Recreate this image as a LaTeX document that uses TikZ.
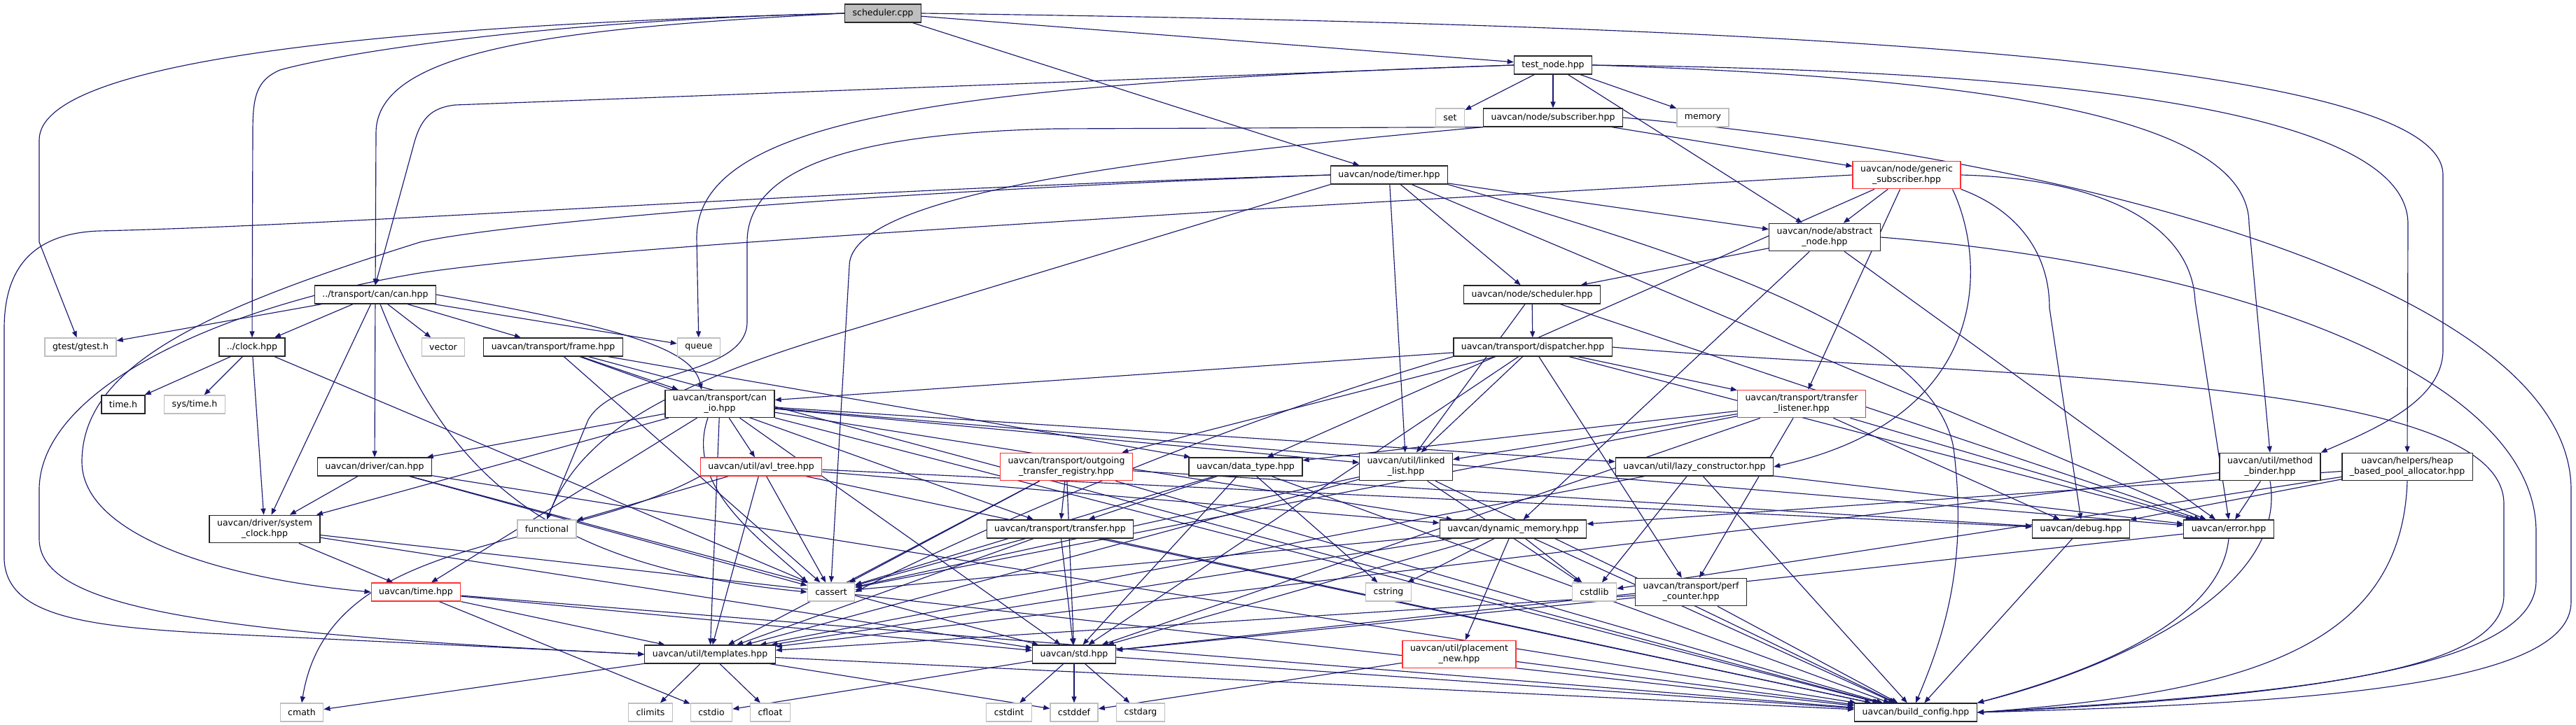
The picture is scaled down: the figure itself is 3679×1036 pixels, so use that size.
\documentclass[tikz,border=0pt]{standalone}
\usepackage{fontspec}
\setmainfont{DejaVu Sans}
\usetikzlibrary{arrows.meta,backgrounds}
\definecolor{edgeblue}{HTML}{191970}
\definecolor{sysgray}{HTML}{BFBFBF}
\definecolor{cutred}{HTML}{FF3030}
\tikzset{
  hdr/.style={draw=black!85, fill=white, line width=1.3pt, inner xsep=11pt, inner ysep=6pt,
    minimum height=26pt, align=center, font=\fontsize{12.5}{15}\selectfont},
  syshdr/.style={hdr, draw=sysgray},
  cuthdr/.style={hdr, draw=cutred},
  mainhdr/.style={hdr, fill=sysgray},
  incl/.style={draw=edgeblue, line width=1.15pt, -{Triangle[length=9pt,width=7pt]}},
}
\begin{document}
\begin{tikzpicture}[x=1pt,y=-1pt]
  \useasboundingbox (0,0) rectangle (3679,1036);
  \node[mainhdr] (scpp)      at (1261,19)   {scheduler.cpp};
  \node[hdr]     (testnode)  at (2218,93)   {test\_node.hpp};
  \node[syshdr]  (set)       at (2071,168)  {set};
  \node[hdr]     (subscr)    at (2218,168)  {uavcan/node/subscriber.hpp};
  \node[syshdr]  (memory)    at (2432,168)  {memory};
  \node[hdr]     (timer)     at (1984,250)  {uavcan/node/timer.hpp};
  \node[cuthdr]  (gensub)    at (2723,250)  {uavcan/node/generic\\\_subscriber.hpp};
  \node[hdr]     (absnode)   at (2606,339)  {uavcan/node/abstract\\\_node.hpp};
  \node[hdr]     (cancan)    at (536,421)   {../transport/can/can.hpp};
  \node[hdr]     (sched)     at (2188,421)  {uavcan/node/scheduler.hpp};
  \node[syshdr]  (gtest)     at (115,496)   {gtest/gtest.h};
  \node[hdr]     (clock)     at (360,496)   {../clock.hpp};
  \node[syshdr]  (vector)    at (633,496)   {vector};
  \node[hdr]     (frame)     at (790,496)   {uavcan/transport/frame.hpp};
  \node[syshdr]  (queue)     at (998,496)   {queue};
  \node[hdr]     (dispatch)  at (2189,496)  {uavcan/transport/dispatcher.hpp};
  \node[hdr]     (timeh)     at (176,578)   {time.h};
  \node[syshdr]  (systime)   at (278,578)   {sys/time.h};
  \node[hdr]     (canio)     at (1028,577)  {uavcan/transport/can\\\_io.hpp};
  \node[cuthdr]  (translist) at (2573,577)  {uavcan/transport/transfer\\\_listener.hpp};
  \node[hdr]     (drvcan)    at (535,667)   {uavcan/driver/can.hpp};
  \node[cuthdr]  (avl)       at (1087,667)  {uavcan/util/avl\_tree.hpp};
  \node[cuthdr]  (outreg)    at (1523,667)  {uavcan/transport/outgoing\\\_transfer\_registry.hpp};
  \node[hdr]     (dtype)     at (1779,667)  {uavcan/data\_type.hpp};
  \node[hdr]     (llist)     at (2008,667)  {uavcan/util/linked\\\_list.hpp};
  \node[hdr]     (lazy)      at (2420,667)  {uavcan/util/lazy\_constructor.hpp};
  \node[hdr]     (binder)    at (3242,667)  {uavcan/util/method\\\_binder.hpp};
  \node[hdr]     (heap)      at (3438,667)  {uavcan/helpers/heap\\\_based\_pool\_allocator.hpp};
  \node[hdr]     (sysclock)  at (378,756)   {uavcan/driver/system\\\_clock.hpp};
  \node[syshdr]  (functional) at (781,756)  {functional};
  \node[hdr]     (transfer)  at (1514,756)  {uavcan/transport/transfer.hpp};
  \node[hdr]     (dynmem)    at (2161,756)  {uavcan/dynamic\_memory.hpp};
  \node[hdr]     (debug)     at (2972,756)  {uavcan/debug.hpp};
  \node[hdr]     (error)     at (3183,756)  {uavcan/error.hpp};
  \node[cuthdr]  (time)      at (594,846)   {uavcan/time.hpp};
  \node[syshdr]  (cassert)   at (1187,846)  {cassert};
  \node[syshdr]  (cstring)   at (1983,846)  {cstring};
  \node[syshdr]  (cstdlib)   at (2277,846)  {cstdlib};
  \node[hdr]     (perf)      at (2415,846)  {uavcan/transport/perf\\\_counter.hpp};
  \node[hdr]     (templates) at (1014,935)  {uavcan/util/templates.hpp};
  \node[hdr]     (std)       at (1534,935)  {uavcan/std.hpp};
  \node[cuthdr]  (placenew)  at (2084,935)  {uavcan/util/placement\\\_new.hpp};
  \node[syshdr]  (cmath)     at (431,1018)  {cmath};
  \node[syshdr]  (climits)   at (929,1018)  {climits};
  \node[syshdr]  (cstdio)    at (1016,1018) {cstdio};
  \node[syshdr]  (cfloat)    at (1100,1018) {cfloat};
  \node[syshdr]  (cstdint)   at (1441,1018) {cstdint};
  \node[syshdr]  (cstddef)   at (1534,1018) {cstddef};
  \node[syshdr]  (cstdarg)   at (1629,1018) {cstdarg};
  \node[hdr]     (buildcfg)  at (2736,1018) {uavcan/build\_config.hpp};
  \begin{scope}[on background layer]
    \foreach \src/\dst in {scpp/testnode, scpp/timer,
        testnode/set, testnode/subscr, testnode/memory, testnode/absnode,
        subscr/gensub, gensub/absnode, gensub/translist, gensub/dtype,
        timer/llist, timer/sched, timer/absnode, timer/error,
        cancan/gtest, cancan/clock, cancan/vector, cancan/frame, cancan/drvcan,
        cancan/queue, cancan/sysclock,
        clock/timeh, clock/systime, clock/sysclock, clock/cassert,
        frame/canio, frame/transfer, frame/dtype, frame/cassert, frame/buildcfg,
        canio/drvcan, canio/avl, canio/sysclock, canio/time, canio/std,
        canio/templates, canio/llist, canio/lazy, canio/dynmem, canio/buildcfg, canio/error,
        drvcan/sysclock, drvcan/cassert, drvcan/std, drvcan/buildcfg,
        avl/functional, avl/cassert, avl/templates, avl/dynmem, avl/debug, avl/buildcfg,
        outreg/transfer, outreg/std, outreg/cassert, outreg/templates, outreg/debug, outreg/buildcfg,
        dtype/transfer, dtype/cstring, dtype/std, dtype/cassert, dtype/buildcfg,
        llist/cstdlib, llist/cassert, llist/buildcfg, llist/templates,
        lazy/cstdlib, lazy/error, lazy/buildcfg, lazy/templates,
        sysclock/time, sysclock/std, sysclock/buildcfg,
        transfer/cassert, transfer/templates, transfer/std, transfer/buildcfg,
        dynmem/cstring, dynmem/cstdlib, dynmem/placenew, dynmem/buildcfg,
        dynmem/cassert, dynmem/std, dynmem/templates,
        debug/buildcfg, error/std,
        time/cstdio, time/std, time/buildcfg, time/templates,
        perf/std, perf/templates, perf/buildcfg,
        templates/climits, templates/cfloat, templates/cmath, templates/cstddef, templates/buildcfg,
        std/cstdint, std/cstddef, std/cstdarg, std/cstdio, std/buildcfg,
        placenew/cstddef, placenew/buildcfg,
        sched/dispatch, sched/llist, sched/error,
        dispatch/translist, dispatch/llist, dispatch/std, dispatch/perf, dispatch/canio,
        dispatch/outreg, dispatch/error,
        translist/llist, translist/dtype, translist/cassert, translist/perf,
        translist/std, translist/debug, translist/error,
        absnode/sched, absnode/dynmem, absnode/error,
        binder/templates, binder/error,
        heap/cstdlib, heap/debug, heap/dynmem}
      \draw[incl] (\src) -- (\dst);
    \draw[incl] (scpp.west) .. controls (600,35) and (56,80) .. (56,200) -- (56,346) -- (gtest);
    \draw[incl] (scpp.west) .. controls (750,30) and (470,80) .. (400,100) .. controls (365,115) and (361,140) .. (361,190) -- (clock);
    \draw[incl] (scpp.west) .. controls (800,40) and (537,70) .. (537,190) -- (cancan);
    \draw[incl] (scpp.east) .. controls (2500,35) and (3489,80) .. (3489,250) -- (3489,500) .. controls (3489,570) and (3400,610) .. (binder.north east);
    \draw[incl] (testnode.west) -- (650,150) .. controls (615,154) and (600,170) .. (590,210) -- (cancan.north);
    \draw[incl] (testnode.west) .. controls (1350,120) and (995,170) .. (995,340) -- (queue);
    \draw[incl] (testnode.east) .. controls (2800,110) and (3212,160) .. (3212,320) -- (binder.north);
    \draw[incl] (testnode.east) .. controls (2900,100) and (3439,150) .. (3439,320) -- (heap.north);
    \draw[incl] (subscr.south west) -- (1507,184) .. controls (1250,190) and (1067,230) .. (1067,346) -- (1067,460) .. controls (1067,540) and (880,530) .. (840,600) -- (functional.north);
    \draw[incl] (subscr.south west) .. controls (1700,220) and (1213,270) .. (1213,380) -- (cassert.north);
    \draw[incl] (subscr.east) .. controls (3000,230) and (3672,420) .. (3672,700) -- (3672,860) .. controls (3672,980) and (3300,1005) .. (buildcfg.east);
    \draw[incl] (gensub.west) -- (1840,296) .. controls (1300,330) and (800,360) .. (600,390) .. controls (300,440) and (56,560) .. (56,700) -- (56,770) .. controls (56,870) and (300,905) .. (templates.west);
    \draw[incl] ([xshift=-12pt]gensub.south east) .. controls (2840,380) and (2840,600) .. (lazy.east);
    \draw[incl] (gensub.south east) .. controls (2880,300) and (2927,360) .. (2927,440) -- (debug.north);
    \draw[incl] (gensub.east) .. controls (3000,255) and (3130,320) .. (3135,430) -- (error.north);
    \draw[incl] (timer.west) .. controls (1200,270) and (500,322) .. (141,330) .. controls (40,334) and (6,390) .. (6,470) -- (6,800) .. controls (10,880) and (120,895) .. (300,905) -- (templates.west);
    \draw[incl] (timer.west) .. controls (1200,275) and (700,322) .. (600,346) .. controls (300,440) and (117,520) .. (117,660) .. controls (117,760) and (300,825) .. (time.west);
    \draw[incl] (timer.south west) -- (1213,472) .. controls (950,550) and (830,620) .. (functional.north);
    \draw[incl] (timer.south east) .. controls (2400,360) and (2760,470) .. (2790,640) .. controls (2810,800) and (2780,900) .. (buildcfg.north);
    \draw[incl] (cancan.east) .. controls (900,470) and (990,500) .. ([xshift=-26pt]canio.north);
    \draw[incl] ([xshift=7pt]cancan.south) .. controls (640,680) and (780,810) .. (cassert.west);
    \draw[incl] ([xshift=-17pt]canio.south) .. controls (975,700) and (1100,780) .. (cassert.north west);
    \draw[incl] (dispatch.south west) .. controls (1700,620) and (1350,780) .. (cassert.east);
    \draw[incl] (avl.south west) .. controls (800,790) and (470,760) .. (cmath.north);
    \draw[incl] (dispatch.east) .. controls (2800,540) and (3576,530) .. (3576,720) -- (3576,850) .. controls (3576,960) and (3300,990) .. (buildcfg.east);
    \draw[incl] (absnode.east) .. controls (3200,380) and (3622,540) .. (3622,760) -- (3622,830) .. controls (3622,950) and (3300,995) .. (buildcfg.east);
    \draw[incl] (heap.south) .. controls (3430,930) and (3200,990) .. (buildcfg.east);
    \draw[incl] (binder.south) .. controls (3270,850) and (3000,960) .. (buildcfg.north east);
    \draw[incl] (error.south) .. controls (3170,900) and (2950,970) .. (buildcfg.north east);
  \end{scope}
\end{tikzpicture}
\end{document}
